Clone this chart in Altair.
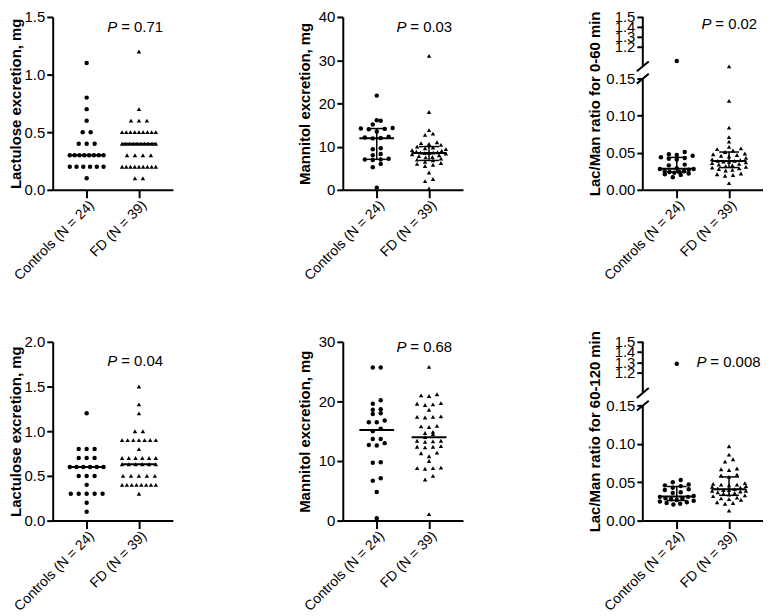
import altair as alt
import numpy as np
import pandas as pd

FONT = "Liberation Sans"
GROUPS = ["Controls", "FD"]
X_LABELS = ["Controls (N = 24)", "FD (N = 39)"]
SHAPES = ["circle", "triangle-up"]

# ---- data ----
# 0-60 min
lac1_ctrl = [1.1, 0.8, 0.7, 0.6, 0.5, 0.5, 0.4, 0.4, 0.4, 0.3, 0.3, 0.3, 0.3, 0.3, 0.3, 0.3, 0.3,
             0.2, 0.2, 0.2, 0.2, 0.2, 0.2, 0.1]
lac1_fd = [1.2, 0.7, 0.6, 0.6, 0.6, 0.5, 0.5, 0.5, 0.5, 0.5, 0.5, 0.5, 0.5, 0.5,
           0.4, 0.4, 0.4, 0.4, 0.4, 0.4, 0.4, 0.4, 0.4, 0.4, 0.3, 0.3, 0.3, 0.3,
           0.2, 0.2, 0.2, 0.2, 0.2, 0.2, 0.2, 0.2, 0.2, 0.1, 0.1]
man1_ctrl = [21.8, 16.1, 16.0, 15.1, 14.3, 14.2, 14.1, 14.0, 13.5, 12.3, 12.1, 12.0,
             11.9, 9.6, 9.4, 8.3, 8.0, 7.2, 7.0, 7.0, 6.9, 6.0, 5.2, 0.5]
man1_fd = [31.0, 18.0, 13.8, 13.0, 12.7, 11.0, 10.8, 10.6, 10.4, 10.0, 9.8, 9.6, 9.4, 9.2, 9.0,
           8.8, 8.7, 8.6, 8.6, 8.5, 8.5, 8.4, 8.2, 8.0, 7.8, 7.6, 7.5, 7.2, 7.0, 6.8,
           6.5, 6.2, 6.0, 5.8, 5.5, 4.0, 2.5, 2.0, 0.3]
lm1_ctrl = [1.055, 0.051, 0.048, 0.047, 0.046, 0.044, 0.043, 0.042, 0.041, 0.034, 0.033, 0.029,
            0.028, 0.028, 0.027, 0.025, 0.025, 0.024, 0.024, 0.023, 0.022, 0.021, 0.020, 0.017]
lm1_fd = [1.0, 0.120, 0.084, 0.071, 0.065, 0.058, 0.056, 0.055, 0.053, 0.051, 0.049, 0.048, 0.047,
          0.046, 0.045, 0.043, 0.041, 0.040, 0.039, 0.039, 0.038, 0.038, 0.037, 0.036, 0.035,
          0.034, 0.033, 0.032, 0.031, 0.030, 0.029, 0.028, 0.027, 0.026, 0.022, 0.021, 0.020,
          0.019, 0.009]
# 60-120 min
lac2_ctrl = [1.2, 0.8, 0.8, 0.8, 0.7, 0.7, 0.7, 0.6, 0.6, 0.6, 0.6, 0.6, 0.6, 0.5, 0.5, 0.5,
             0.4, 0.3, 0.3, 0.3, 0.3, 0.3, 0.2, 0.1]
lac2_fd = [1.5, 1.3, 1.2, 1.0, 1.0, 0.9, 0.9, 0.9, 0.9, 0.9, 0.9, 0.9, 0.8,
           0.7, 0.7, 0.7, 0.7, 0.7, 0.7, 0.63, 0.63, 0.63, 0.63, 0.63, 0.63,
           0.5, 0.5, 0.5, 0.5, 0.5, 0.4, 0.4, 0.4, 0.4, 0.4, 0.4, 0.4, 0.4, 0.3]
man2_ctrl = [25.7, 25.7, 20.2, 19.6, 18.7, 18.6, 18.0, 17.9, 16.8, 16.5, 16.5, 15.4, 15.0,
             13.7, 13.7, 13.0, 12.7, 12.6, 9.8, 9.7, 7.1, 6.7, 4.8, 0.4]
man2_fd = [25.8, 21.2, 21.0, 20.9, 19.7, 19.6, 19.5, 19.4, 18.6, 17.5, 17.4, 17.4, 17.3,
           15.9, 15.8, 15.7, 14.9, 14.7, 14.5, 14.0, 13.4, 13.4, 13.3, 13.2, 12.5, 12.4,
           12.4, 12.3, 11.4, 11.3, 10.8, 10.0, 8.9, 8.8, 8.8, 8.7, 7.5, 6.9, 1.1]
lm2_ctrl = [1.285, 0.053, 0.050, 0.047, 0.046, 0.045, 0.043, 0.041, 0.040, 0.037, 0.036, 0.032,
            0.031, 0.031, 0.029, 0.029, 0.028, 0.027, 0.026, 0.025, 0.024, 0.023, 0.022, 0.021]
lm2_fd = [0.097, 0.086, 0.080, 0.077, 0.068, 0.067, 0.066, 0.060, 0.059, 0.057, 0.049, 0.048,
          0.047, 0.047, 0.046, 0.045, 0.044, 0.043, 0.042, 0.041, 0.040, 0.040, 0.039, 0.039,
          0.038, 0.037, 0.036, 0.035, 0.034, 0.033, 0.032, 0.030, 0.029, 0.028, 0.027, 0.024,
          0.023, 0.022, 0.013]

P_VALUES = ["0.71", "0.03", "0.02", "0.04", "0.68", "0.008"]
Y_TITLES = ["Lactulose excretion, mg", "Mannitol excretion, mg", "Lac/Man ratio for 0-60 min",
            "Lactulose excretion, mg", "Mannitol excretion, mg", "Lac/Man ratio for 60-120 min"]
TICKS_LAC1 = [0.0, 0.5, 1.0, 1.5]
TICKS_MAN1 = [0, 10, 20, 30, 40]
TICKS_LAC2 = [0.0, 0.5, 1.0, 1.5, 2.0]
TICKS_MAN2 = [0, 10, 20, 30]
TICKS_RATIO = [0.0, 0.05, 0.10, 0.15, 1.2, 1.3, 1.4, 1.5]
LABELS_RATIO = ["0.00", "0.05", "0.10", "0.15", "1.2", "1.3", "1.4", "1.5"]
BREAK_LOWER = [0.0, 0.15]
BREAK_UPPER = [1.0, 1.5]

# ---- layout constants ----
W = 121
H1 = 174
H2 = 180
X_DOM = [-0.65, 1.65]
PXX = W / (X_DOM[1] - X_DOM[0])
LOWER_FRAC = 0.643
UPPER_FRAC = 0.286
XS = alt.Scale(domain=X_DOM, nice=False, zero=False)


def make_ymap(H, ticks, broken):
    if broken:
        lo = BREAK_LOWER[1]
        u0, u1 = BREAK_UPPER
        L = LOWER_FRAC * H
        U = UPPER_FRAC * H

        def f(v):
            return v / lo * L if v <= lo else H - (u1 - v) / (u1 - u0) * U

        def expr(field):
            d = f"datum['{field}']"
            return f"{d} <= {lo} ? {d} / {lo} * {L} : {H} - ({u1} - {d}) / {u1 - u0} * {U}"
        return f, expr
    top = ticks[-1]
    return (lambda v: v / top * H), None


def swarm(vals, f, spacing=8.0, maxw=34.0, h=4.0):
    ys = [f(v) for v in vals]
    order = sorted(range(len(vals)), key=lambda i: ys[i])
    bins = []
    for i in order:
        if bins and ys[i] - ys[bins[-1][0]] < h:
            bins[-1].append(i)
        else:
            bins.append([i])
    offs = [0.0] * len(vals)
    for b in bins:
        n = len(b)
        if n == 1:
            continue
        s = min(spacing, maxw / (n - 1))
        slots = sorted([(k - (n - 1) / 2) * s for k in range(n)], key=lambda x: (abs(x), x))
        for idx, sl in zip(b, slots):
            offs[idx] = sl
    return offs


def panel(ctrl, fd, title, ticks, fmt, pval, ppos, H, iqr=False, broken=False, tpad=4):
    f, expr = make_ymap(H, ticks, broken)
    rows, stats = [], []
    for gi, (g, vals) in enumerate(zip(GROUPS, [ctrl, fd])):
        offs = swarm(vals, f)
        for v, o in zip(vals, offs):
            rows.append({"group": g, "value": v, "xpos": gi + o / PXX})
        q1, med, q3 = np.percentile(vals, [25, 50, 75], method="weibull")
        stats.append({"group": g, "xc": gi, "xl": gi - 17.5 / PXX, "xr": gi + 17.5 / PXX,
                      "cl": gi - 10 / PXX, "cr": gi + 10 / PXX,
                      "q1": float(q1), "med": float(med), "q3": float(q3)})
    df = pd.DataFrame(rows)
    dst = pd.DataFrame(stats)

    xaxis = alt.Axis(values=[0, 1], title=None, grid=False,
                     labelExpr=f"datum.value == 0 ? '{X_LABELS[0]}' : '{X_LABELS[1]}'")
    if broken:
        YS = alt.Scale(domain=[0, H], nice=False, zero=False)
        vals = [round(f(t), 4) for t in ticks]
        le = " : ".join(f"abs(datum.value - {v}) < 0.01 ? '{lab}'" for v, lab in zip(vals, LABELS_RATIO)) + " : ''"
        yaxis = alt.Axis(title=title, values=vals, labelExpr=le, domain=False,
                         labelOverlap=False, grid=False, titlePadding=tpad)
    else:
        YS = alt.Scale(domain=[0, ticks[-1]], nice=False, zero=False)
        yaxis = alt.Axis(title=title, values=ticks, format=fmt, labelOverlap=False,
                         grid=False, titlePadding=tpad)

    def X(field):
        return alt.X(f"{field}:Q", scale=XS, axis=xaxis)

    def Y(field):
        return alt.Y(f"{field}:Q", scale=YS, axis=yaxis)

    base = alt.Chart(df)
    yv = "value"
    if broken:
        base = base.transform_calculate(value_y=expr("value"))
        yv = "value_y"
    pts = base.mark_point(filled=True, opacity=1, size=20, color="black").encode(
        x=X("xpos"), y=Y(yv),
        shape=alt.Shape("group:N", scale=alt.Scale(domain=GROUPS, range=SHAPES), legend=None),
    )
    layers = [pts]

    sb = alt.Chart(dst)
    if broken:
        sb = sb.transform_calculate(med_y=expr("med"), q1_y=expr("q1"), q3_y=expr("q3"))
        fm, fq1, fq3 = "med_y", "q1_y", "q3_y"
    else:
        fm, fq1, fq3 = "med", "q1", "q3"
    layers.append(sb.mark_rule(strokeWidth=2, color="black").encode(
        x=X("xl"), x2="xr:Q", y=Y(fm)))
    if iqr:
        layers.append(sb.mark_rule(strokeWidth=1.5, color="black").encode(
            x=X("xc"), y=Y(fq1), y2=f"{fq3}:Q"))
        for fq in (fq1, fq3):
            layers.append(sb.mark_rule(strokeWidth=1.5, color="black").encode(
                x=X("cl"), x2="cr:Q", y=Y(fq)))

    if broken:
        seg = alt.Chart(pd.DataFrame({"a": [BREAK_LOWER[0], BREAK_UPPER[0]],
                                      "b": [BREAK_LOWER[1], BREAK_UPPER[1]]}))
        seg = seg.transform_calculate(ya=expr("a"), yb=expr("b"))
        layers.append(seg.mark_rule(strokeWidth=2, color="black").encode(
            x=alt.value(0), y=Y("ya"), y2="yb:Q"))
        brk = alt.Chart(pd.DataFrame({"b": [BREAK_LOWER[1], BREAK_UPPER[0]]}))
        brk = brk.transform_calculate(yc=expr("b")).transform_calculate(
            y1="datum.yc - 5", y2="datum.yc + 5")
        layers.append(brk.mark_rule(strokeWidth=2, color="black").encode(
            x=alt.value(-6), x2=alt.value(6), y=Y("y1"), y2="y2:Q"))

    ptd = alt.Chart(pd.DataFrame({"p": ["= " + pval]}))
    px, py = ppos
    layers.append(ptd.mark_text(text="P", fontStyle="italic", fontSize=15, font=FONT,
                                align="left", baseline="alphabetic", color="black").encode(
        x=alt.value(px), y=alt.value(py)))
    layers.append(ptd.mark_text(fontSize=15, font=FONT, align="left", baseline="alphabetic",
                                color="black").encode(
        x=alt.value(px + 14), y=alt.value(py), text="p:N"))

    return alt.layer(*layers).properties(width=W, height=H)


p1 = panel(lac1_ctrl, lac1_fd, Y_TITLES[0], TICKS_LAC1, ".1f", P_VALUES[0], (55, 15), H1, tpad=1)
p2 = panel(man1_ctrl, man1_fd, Y_TITLES[1], TICKS_MAN1, "d", P_VALUES[1], (54, 15), H1, iqr=True, tpad=6)
p3 = panel(lm1_ctrl, lm1_fd, Y_TITLES[2], TICKS_RATIO, None, P_VALUES[2], (59, 12), H1, iqr=True,
           broken=True, tpad=3)
p4 = panel(lac2_ctrl, lac2_fd, Y_TITLES[3], TICKS_LAC2, ".1f", P_VALUES[3], (55, 24), H2, tpad=1)
p5 = panel(man2_ctrl, man2_fd, Y_TITLES[4], TICKS_MAN2, "d", P_VALUES[4], (54, 10), H2, tpad=6)
p6 = panel(lm2_ctrl, lm2_fd, Y_TITLES[5], TICKS_RATIO, None, P_VALUES[5], (54, 25), H2, iqr=True,
           broken=True, tpad=3)

row1 = alt.hconcat(p1, p2, p3, spacing=125)
row2 = alt.hconcat(p4, p5, p6, spacing=125)

chart = alt.vconcat(row1, row2, spacing=47).properties(padding=0).configure(
    font=FONT
).configure_view(stroke=None).configure_axis(
    domainColor="black", domainWidth=2, tickColor="black", tickWidth=2,
    labelColor="black", titleColor="black", labelFont=FONT, titleFont=FONT,
    labelFontSize=15, titleFontSize=15, titleFontWeight="bold", grid=False,
).configure_axisY(tickSize=6, labelPadding=2).configure_axisX(
    tickSize=8, labelAngle=-45, labelFontSize=14, labelPadding=0)

chart.save("out.html", embed_options={"renderer": "svg", "actions": False})
